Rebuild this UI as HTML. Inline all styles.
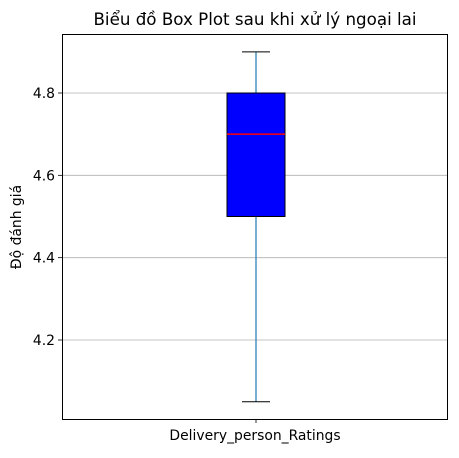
<!DOCTYPE html>
<html><head><meta charset="utf-8">
<style>
body{margin:0;background:#fff;font-family:"Liberation Sans","DejaVu Sans",sans-serif;}
svg text{font-family:"DejaVu Sans","Liberation Sans",sans-serif;}
</style></head>
<body>
<svg id="chart" width="459" height="453" xmlns="http://www.w3.org/2000/svg">
<text x="255" y="25" font-size="16.7" text-anchor="middle">Biểu đồ Box Plot sau khi xử lý ngoại lai</text>
<g id="grid"></g>
<g id="marks"></g>
<rect x="62.5" y="34.5" width="385" height="385" fill="none" stroke="#000" stroke-width="1"/>
<g id="yaxis"></g>
<text x="255" y="440" font-size="13.9" text-anchor="middle">Delivery_person_Ratings</text>
<text transform="translate(21,227) rotate(-90)" font-size="13.9" text-anchor="middle">Độ đánh giá</text>
</svg>
<script>
const yTicks=[4.2,4.4,4.6,4.8];
const stats=[4.05,4.5,4.7,4.8,4.9]; // whiskerLow,q1,median,q3,whiskerHigh
const categories=["Delivery_person_Ratings"];
const NS="http://www.w3.org/2000/svg";
const y=v=>93+(4.8-v)*411.67;
const cx=256;
function mk(tag,attrs,parent){const e=document.createElementNS(NS,tag);for(const k in attrs)e.setAttribute(k,attrs[k]);parent.appendChild(e);return e;}
const grid=document.getElementById('grid'),ya=document.getElementById('yaxis'),m=document.getElementById('marks');
yTicks.forEach(t=>{
 const g=mk('line',{x1:62,x2:447,y1:y(t),y2:y(t),stroke:'#b0b0b0','stroke-width':0.8},grid);
 
 
 const tk=mk('line',{x1:58,x2:62,y1:y(t),y2:y(t),stroke:'#000','stroke-width':0.8},ya);
 
 
 const tx=mk('text',{x:55,y:y(t)+5,'font-size':13.9,'text-anchor':'end'},ya);
 tx.textContent=t.toFixed(1);
 
 
});
const xt=mk('line',{x1:cx,x2:cx,y1:419,y2:423,stroke:'#000','stroke-width':0.8},ya);


const [lo,q1,med,q3,hi]=stats;
const w1=mk('line',{x1:cx,x2:cx,y1:y(q1),y2:y(lo),stroke:'#1f77b4','stroke-width':1.2},m);


const w2=mk('line',{x1:cx,x2:cx,y1:y(q3),y2:y(hi),stroke:'#1f77b4','stroke-width':1.2},m);


const c1=mk('line',{x1:cx-14,x2:cx+14,y1:y(lo),y2:y(lo),stroke:'#000','stroke-width':1},m);


const c2=mk('line',{x1:cx-14,x2:cx+14,y1:y(hi),y2:y(hi),stroke:'#000','stroke-width':1},m);


const b=mk('rect',{x:cx-29,y:y(q3),width:58,height:y(q1)-y(q3),fill:'#0000ff',stroke:'#000','stroke-width':1},m);


const md=mk('line',{x1:cx-29,x2:cx+29,y1:y(med),y2:y(med),stroke:'#ff0000','stroke-width':1.5},m);


</script>
</body></html>
